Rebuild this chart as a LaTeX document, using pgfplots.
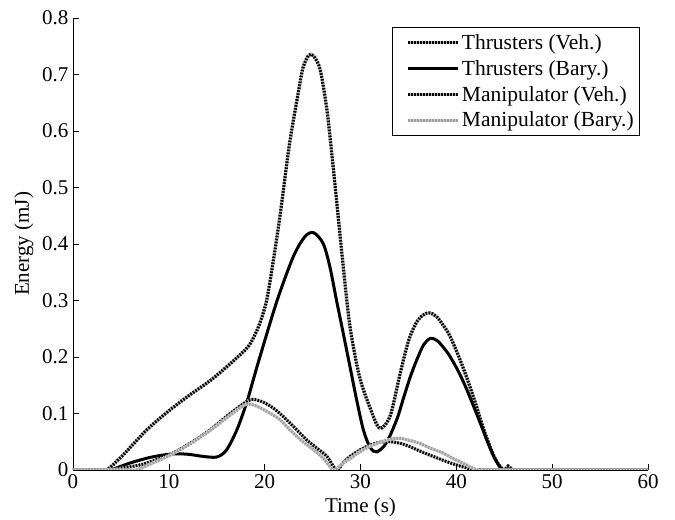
\documentclass[border=0pt]{standalone}
\usepackage{pgfplots}
\pgfplotsset{compat=1.18}
\usepackage{fontspec}
\setmainfont{Liberation Serif}
\pgfplotstableread{
x y
0 0
2.5 0
3.5 0
5.25 0.027
7.7 0.071
10.1 0.106
12.2 0.133
14.3 0.158
16.2 0.185
18.1 0.215
18.8 0.233
19.5 0.26
20.2 0.30
20.9 0.37
21.6 0.45
22.6 0.578
23.5 0.667
24.0 0.712
24.6 0.734
25.1 0.733
25.8 0.708
26.5 0.637
27.0 0.56
27.5 0.478
28.2 0.36
28.9 0.254
29.9 0.165
31.0 0.110
32.0 0.074
33.1 0.096
34.1 0.168
35.0 0.228
35.8 0.260
36.5 0.274
37.2 0.278
37.9 0.272
38.6 0.257
39.3 0.238
40.2 0.203
41.1 0.163
42.0 0.118
42.8 0.075
43.7 0.033
44.4 0.010
45.0 0
45.4 0.007
45.8 0.001
46.3 0
47.0 0
60 0
}\thrusterveh
\pgfplotstableread{
x y
0 0
3.0 0
3.9 0
5.9 0.012
8.0 0.022
10.1 0.028
11.9 0.028
13.6 0.024
15.0 0.023
16.0 0.035
17.1 0.071
18.1 0.118
18.8 0.159
19.5 0.200
21.3 0.300
23.0 0.378
24.2 0.413
25.1 0.420
26.1 0.401
26.8 0.360
27.5 0.300
28.2 0.242
28.9 0.183
29.6 0.124
30.3 0.071
31.0 0.040
31.7 0.032
32.7 0.048
33.8 0.090
34.5 0.128
35.2 0.165
35.9 0.196
36.6 0.222
37.3 0.233
38.0 0.229
38.7 0.216
39.3 0.202
40.2 0.175
41.1 0.142
42.5 0.083
43.2 0.052
43.9 0.024
44.6 0.004
45.0 0
45.6 0
46.5 0
60 0
}\thrusterbary
\pgfplotstableread{
x y
0 0
2.8 0
3.7 0
5.3 0.004
7.0 0.009
8.5 0.017
10.1 0.027
12.2 0.047
14.3 0.071
16.4 0.100
18.1 0.121
18.8 0.125
19.7 0.121
20.6 0.113
21.6 0.100
23.0 0.077
24.4 0.053
25.5 0.038
26.5 0.024
27.5 0
28.2 0.013
28.9 0.024
30.0 0.036
31.0 0.044
32.0 0.049
33.1 0.050
34.2 0.047
35.2 0.041
36.4 0.032
37.6 0.024
38.8 0.016
40.0 0.009
41.0 0.004
41.8 0
42.5 0
43.5 0
60 0
}\manipveh
\pgfplotstableread{
x y
0 0
5.6 0
6.6 0
8.0 0.010
10.1 0.026
12.2 0.046
14.3 0.070
16.4 0.097
17.6 0.112
18.3 0.117
19.3 0.112
20.6 0.100
21.6 0.089
22.7 0.070
24.0 0.050
25.1 0.036
26.1 0.021
27.2 0
28.0 0.010
28.9 0.020
30.2 0.035
31.7 0.047
33.0 0.054
34.1 0.056
35.2 0.052
36.2 0.047
37.4 0.038
38.6 0.030
39.7 0.020
40.7 0.012
41.6 0.004
42.2 0
43.0 0
44.0 0
60 0
}\manipbary
\begin{document}
\begin{tikzpicture}[font=\fontsize{21}{24}\selectfont]
\begin{axis}[
  name=ax,
  scale only axis,
  width=575pt, height=452pt,
  xmin=0, xmax=60, ymin=0, ymax=0.8,
  axis lines*=left,
  axis line style={line width=0.8pt},
  tick align=inside,
  major tick length=6pt,
  tick style={black, line width=0.6pt},
  xtick={0,10,...,60},
  ytick={0,0.1,...,0.8},
  /pgf/number format/assume math mode=true,
  /pgf/number format/fixed,
  yticklabel style={/pgf/number format/precision=1, xshift=-1pt},
  xticklabel style={yshift=-1pt},
  xlabel={Time (s)},
  ylabel={Energy (mJ)},
  xlabel style={yshift=-2pt},
  ylabel style={yshift=2pt},
  legend cell align=left,
  legend style={at={(1,1)}, anchor=north east, xshift=-8pt, yshift=-9pt,
    draw=black, line width=0.6pt, inner xsep=4pt, inner ysep=5pt,
    row sep=5.5pt, font=\fontsize{21.5}{24}\selectfont},
  legend image code/.code={\path (0pt,0pt); \draw[#1] (10pt,0pt) -- (60pt,0pt);},
  every axis plot/.append style={smooth, tension=0.5},
]
\addplot[black, line width=3.2pt, dash pattern=on 1.6pt off 1.4pt,
  preaction={draw, gray!55, solid, line width=3.2pt}] table[x=x,y=y] {\thrusterveh};
\addlegendentry{Thrusters (Veh.)}
\addplot[black, line width=3pt] table[x=x,y=y] {\thrusterbary};
\addlegendentry{Thrusters (Bary.)}
\addplot[black, line width=3pt, dash pattern=on 1.6pt off 1.4pt,
  preaction={draw, gray!55, solid, line width=3pt}] table[x=x,y=y] {\manipveh};
\addlegendentry{Manipulator (Veh.)}
\addplot[gray!75, line width=3pt, dash pattern=on 1.6pt off 1.4pt,
  preaction={draw, gray!40, solid, line width=3pt}] table[x=x,y=y] {\manipbary};
\addlegendentry{Manipulator (Bary.)}
\end{axis}
\path ([shift={(-73pt,-49pt)}]ax.south west) ([shift={(27pt,18pt)}]ax.north east);
\end{tikzpicture}
\end{document}
